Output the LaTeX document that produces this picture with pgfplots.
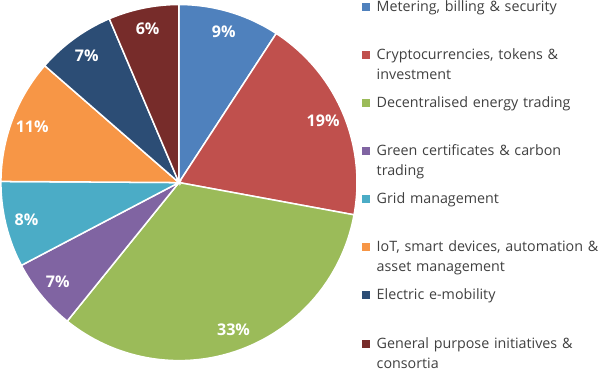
\documentclass[border=0pt]{standalone}
\usepackage{pgfplots}
\pgfplotsset{compat=1.18}
\usepackage{pgfplotstable}
\usepackage{fontspec}
\setmainfont{Open Sans}
\definecolor{c1}{HTML}{4F81BD}
\definecolor{c2}{HTML}{C0504D}
\definecolor{c3}{HTML}{9BBB59}
\definecolor{c4}{HTML}{8064A2}
\definecolor{c5}{HTML}{4BACC6}
\definecolor{c6}{HTML}{F79646}
\definecolor{c7}{HTML}{2C4D75}
\definecolor{c8}{HTML}{772C2A}
\definecolor{legtext}{HTML}{404040}
\newcommand\labelfont{\bfseries\fontsize{16pt}{18pt}\selectfont}
\newcommand\legfont{\fontsize{14.2pt}{20pt}\selectfont}
\pgfplotstableread[col sep=comma]{
value,label
9.2,9
18.7,19
32.9,33
6.5,7
7.8,8
11.3,11
7.2,7
6.4,6
}\piedata
\begin{document}
\begin{tikzpicture}
\begin{axis}[
  x=1pt, y=1pt,
  xmin=-179, xmax=421, ymin=-184, ymax=184,
  hide axis, clip=false,
  legend style={at={(axis cs:182,181.7)}, anchor=north west, draw=none, fill=none,
    inner sep=0pt, row sep=0pt,
    /tikz/every odd column/.append style={column sep=7pt},
    nodes={inner sep=0pt, text width=222pt, align=left, text height=11pt, text depth=36.86pt, font=\legfont, text=legtext}},
  legend cell align=left,
]
\pgfplotstablegetrowsof{\piedata}
\pgfmathtruncatemacro\nrows{\pgfplotsretval-1}
\gdef\cum{0}
\pgfplotsforeachungrouped \i in {0,...,\nrows}{
  \pgfplotstablegetelem{\i}{value}\of\piedata \let\val\pgfplotsretval
  \pgfplotstablegetelem{\i}{label}\of\piedata \let\lab\pgfplotsretval
  \pgfmathsetmacro\sa{90-3.6*\cum}
  \pgfmathsetmacro\ea{90-3.6*(\cum+\val)}
  \pgfmathsetmacro\ma{(\sa+\ea)/2}
  \pgfmathtruncatemacro\ci{\i+1}
  \edef\temp{\noexpand\fill[c\ci, draw=white, line width=1.5pt] (axis cs:0,0) -- (axis cs:{177*cos(\sa)},{177*sin(\sa)}) arc[start angle=\sa, end angle=\ea, radius=177pt] -- cycle;
    \noexpand\node[text=white, font=\noexpand\labelfont] at (axis cs:{156*cos(\ma)},{156*sin(\ma)}) {\lab\noexpand\%};}
  \temp
  \pgfmathsetmacro\newcum{\cum+\val}
  \global\let\cum\newcum
}
\def\sq#1{\addlegendimage{legend image code/.code={\fill[#1] (0pt,14.2pt) rectangle (7pt,21.2pt);}}}
\sq{c1}\addlegendentry{\mbox{Metering, billing \& security}}
\sq{c2}\addlegendentry{\mbox{Cryptocurrencies, tokens \&}\\investment}
\sq{c3}\addlegendentry{\mbox{Decentralised energy trading}}
\sq{c4}\addlegendentry{\mbox{Green certificates \& carbon}\\trading}
\sq{c5}\addlegendentry{\mbox{Grid management}}
\sq{c6}\addlegendentry{\mbox{IoT, smart devices, automation \&}\\\mbox{asset management}}
\sq{c7}\addlegendentry{\mbox{Electric e-mobility}}
\sq{c8}\addlegendentry{\mbox{General purpose initiatives \&}\\consortia}
\end{axis}
\end{tikzpicture}
\end{document}
